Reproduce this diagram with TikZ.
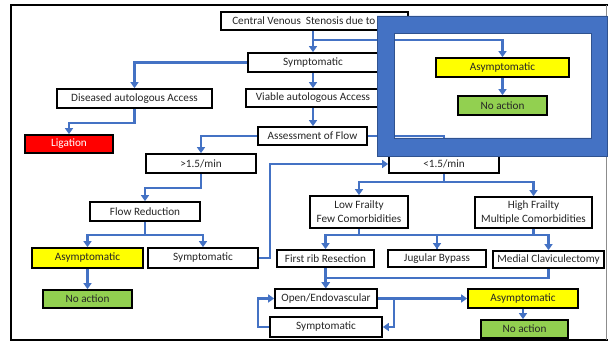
\documentclass[tikz,border=0pt]{standalone}
\usepackage{fontspec}
\setmainfont{Carlito}
\usetikzlibrary{arrows.meta}
\definecolor{lnblue}{HTML}{4472C4}
\definecolor{frdark}{HTML}{2F528F}
\definecolor{boxyel}{HTML}{FFFF00}
\definecolor{boxgrn}{HTML}{92D050}
\definecolor{boxred}{HTML}{FF0000}
\definecolor{txtdark}{HTML}{262626}
\begin{document}
\begin{tikzpicture}[x=0.75pt,y=-0.75pt,
  box/.style={draw=black, line width=1.3pt, fill=white, inner sep=0pt,
    font=\fontsize{8.4}{10.5}\selectfont, text=txtdark, align=center},
  sz/.style 2 args={minimum width=#1*0.75pt, minimum height=#2*0.75pt},
  txt/.style={inner sep=0pt, font=\fontsize{8.4}{10.5}\selectfont, text=txtdark},
  arr/.style={draw=lnblue, line width=1.9pt, -{Triangle[width=6pt,length=4.5pt]}},
  ln/.style={draw=lnblue, line width=1.9pt}]
\useasboundingbox (0,0) rectangle (608,341);
% outer frame
\draw[line width=1.5pt] (608,5) -- (11,5) -- (11,340) -- (608,340);
\draw[black!45, line width=0.6pt] (606,5) -- (606,340);

% nodes
\node[box, sz={187}{18}] (cvs) at (314.5,21) {};
\node[txt, anchor=west] (cvst) at (232,21) {Central Venous\ \ Stenosis due to};
\node[box, sz={130}{19}] (sym1) at (313,62.5) {Symptomatic};
\node[box, sz={155}{19}] (dis) at (134.5,98.5) {Diseased autologous Access};
\node[box, sz={88}{18}, fill=boxred, text=white] (lig) at (69,144) {Ligation};
\node[box, sz={134}{18}] (via) at (313,98) {Viable autologous Access};
\node[box, sz={109}{18}] (ass) at (312.5,136) {Assessment of Flow};
\node[box, sz={110}{19}] (gt) at (201,163.5) {>1.5/min};
\node[box, sz={110}{18}] (lt) at (444,164) {<1.5/min};
\node[box, sz={110}{19}] (fr) at (145,211.5) {Flow Reduction};
\node[box, sz={111}{20}, fill=boxyel] (asy1) at (87.5,258) {Asymptomatic};
\node[box, sz={110}{20}] (sym2) at (203,258) {Symptomatic};
\node[box, sz={89}{18}, fill=boxgrn] (na1) at (87.5,299) {No action};
\node[box, sz={98}{32}] (low) at (359,212) {Low Frailty\\Few Comorbidities};
\node[box, sz={117}{31}] (high) at (533.5,212.5) {High Frailty\\Multiple Comorbidities};
\node[box, sz={97}{17}] (rib) at (325.5,258.5) {First rib Resection};
\node[box, sz={98}{17}] (jug) at (437,258.5) {Jugular Bypass};
\node[box, sz={111}{17}] (med) at (548.5,259.5) {Medial Claviculectomy};
\node[box, sz={102}{19}] (open) at (326,298.5) {Open/Endovascular};
\node[box, sz={112}{20}] (sym3) at (326,327) {Symptomatic};
\node[box, sz={110}{19}, fill=boxyel] (asy3) at (523,298.5) {Asymptomatic};
\node[box, sz={87}{18}, fill=boxgrn] (na3) at (524.5,329) {No action};
\node[box, sz={133}{19}, fill=boxyel] (asy2) at (502.5,67.5) {Asymptomatic};
\node[box, sz={89}{19}, fill=boxgrn] (na2) at (502.5,105.5) {No action};

% connectors
\draw[arr] (cvs.south -| sym1.north) -- (sym1.north);
\draw[arr] (cvs.south -| sym1.north) -- ++(0,9) -| (asy2.north);
\draw[arr] (asy2.south) -- (na2.north);
\draw[arr] (sym1.west) -| (dis.north);
\draw[arr] (dis.south) -- ++(0,14) -| (lig.north);
\draw[arr] (sym1.south) -- (via.north);
\draw[arr] (via.south) -- (via.south |- ass.north);
\draw[arr] (ass.west) -| (gt.north);
\draw[arr] (ass.east) -| (lt.north);
\draw[arr] (gt.south) -- ++(0,14) -| (fr.north);
\draw[arr] (fr.south) -- ++(0,13) -| (asy1.north);
\draw[arr] (fr.south) -- ++(0,13) -| (sym2.north);
\draw[arr] (asy1.south) -- (na1.north);
\draw[arr] (sym2.east) -- ++(11,0) |- (lt.west);
\draw[arr] (lt.south) -- ++(0,8) -| (low.north);
\draw[arr] (lt.south) -- ++(0,8) -| (high.north);
\draw[arr] (low.south) -- ++(0,6) -| (rib.north);
\draw[arr] (low.south) -- ++(0,6) -| (jug.north);
\draw[ln] (high.south) -- ++(0,6) -| (jug.north);
\draw[arr] (high.south) -- ++(0,6) -| (med.north);
\draw[arr] (rib.south) -- (rib.south |- open.north);
\draw[arr] (med.south) -- ++(0,9) -| (open.north);
\draw[arr] (open.east) -- (asy3.west);
\draw[arr] (open.east) -- ++(16,0) |- (sym3.east);
\draw[arr] (sym3.west) -- ++(-11,0) |- (open.west);
\draw[arr] (asy3.south) -- (asy3.south |- na3.north);

% overlaid blue frame
\fill[lnblue, even odd rule] (377,16) rectangle (607,156) (394,33) rectangle (591,138);
\draw[frdark, line width=0.6pt] (377,16) rectangle (607,156);
\draw[frdark, line width=0.6pt] (394,33) rectangle (591,138);
\end{tikzpicture}
\end{document}
